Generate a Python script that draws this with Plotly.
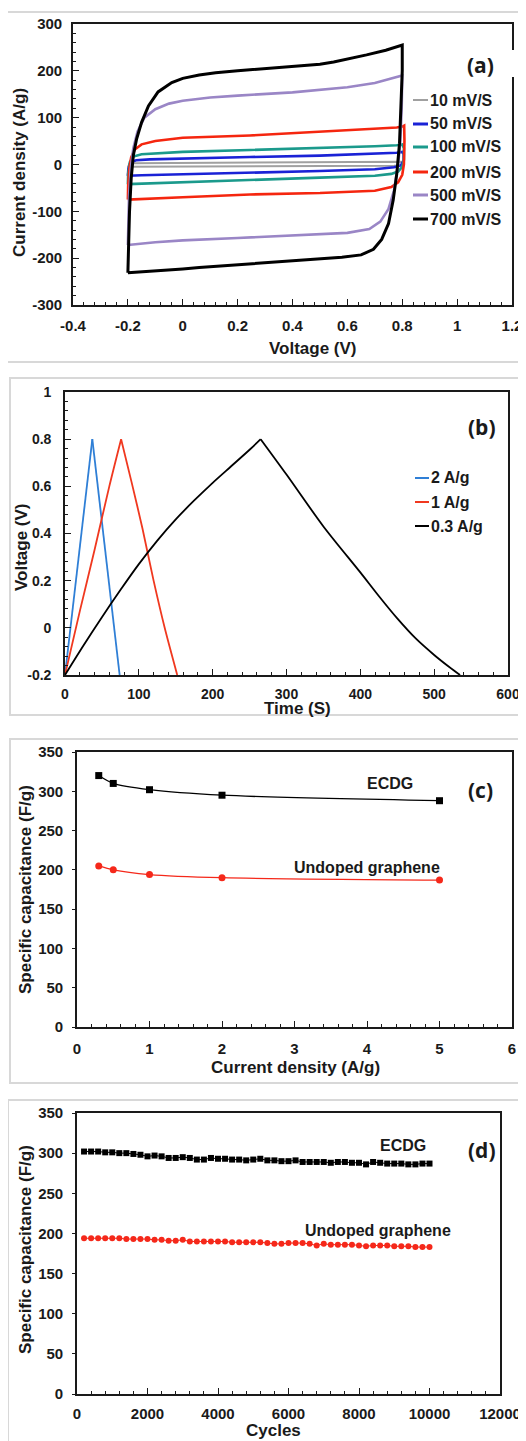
import plotly.graph_objects as go

# page has an 8px body margin: the figure is placed at (8, 8)
OX, OY = 8, 8
FW, FH = 518, 1433
def px(x): return (x - OX) / FW
def py(y): return 1 - (y - OY) / FH

FONT = "Liberation Sans, Arial, sans-serif"
LBL_FONT = "Open Sans, sans-serif"
INK = "#1a1a1a"

# ---------------- Panel (a): CV curves ----------------
cv_legend = ["10 mV/S", "50 mV/S", "100 mV/S", "200 mV/S", "500 mV/S", "700 mV/S"]
cv_colors = ["#a0a0a0", "#1a22d6", "#1b9a8c", "#f5260f", "#9a86c6", "#000000"]
cv_widths = [2, 2.6, 2.6, 2.6, 2.6, 3]

cv10_v = [-0.2, -0.195, -0.18, 0.0, 0.2, 0.4, 0.6, 0.78, 0.8, 0.8, 0.79, 0.77, 0.6, 0.4, 0.2, 0.0, -0.18, -0.2, -0.2]
cv10_i = [-5, 1, 2.5, 3, 3.5, 4, 5, 6, 6, 1, -2, -2.5, -3, -3.5, -4, -4.5, -5, -5, -5]

cv50_v = [-0.2, -0.198, -0.19, -0.17, -0.12, 0.0, 0.245, 0.5, 0.7, 0.78, 0.8, 0.805, 0.805, 0.795, 0.77, 0.7, 0.5, 0.245, 0.0, -0.15, -0.2]
cv50_i = [-24, -8, 5, 9, 11, 13, 16, 19, 23, 25, 27, 22, 8, -2, -6, -10, -14, -17, -21, -23, -24]

cv100_v = [-0.2, -0.199, -0.193, -0.18, -0.15, -0.1, 0.0, 0.245, 0.5, 0.7, 0.78, 0.8, 0.806, 0.806, 0.8, 0.785, 0.76, 0.7, 0.5, 0.245, 0.0, -0.15, -0.2]
cv100_i = [-42, -20, 5, 17, 22, 24, 27, 31, 35, 39, 41, 43, 35, 10, -5, -15, -20, -24, -28, -33, -38, -41, -42]

cv200_v = [-0.2, -0.199, -0.195, -0.188, -0.175, -0.15, -0.1, -0.05, 0.0, 0.245, 0.5, 0.7, 0.78, 0.8, 0.807, 0.808, 0.806, 0.8, 0.785, 0.76, 0.7, 0.5, 0.245, 0.0, -0.1, -0.2]
cv200_i = [-75, -45, -10, 15, 32, 43, 50, 54, 57, 62, 70, 76, 79, 81, 83, 50, 0, -22, -38, -48, -56, -61, -64, -70, -73, -75]

cv500_v = [-0.2, -0.199, -0.196, -0.19, -0.18, -0.165, -0.14, -0.1, -0.05, 0.0, 0.1, 0.2, 0.4, 0.6, 0.7, 0.8, 0.8, 0.798, 0.793, 0.785, 0.77, 0.75, 0.72, 0.68, 0.6, 0.4, 0.2, 0.0, -0.1, -0.2, -0.2]
cv500_i = [-172, -130, -70, -10, 35, 70, 100, 118, 130, 136, 143, 147, 154, 165, 174, 190, 170, 120, 50, 0, -55, -95, -122, -138, -146, -152, -157, -162, -166, -172, -172]

cv700_v = [-0.2, -0.198, -0.194, -0.188, -0.18, -0.168, -0.15, -0.125, -0.09, -0.04, 0.0, 0.06, 0.12, 0.2, 0.3, 0.4, 0.5, 0.55, 0.6, 0.67, 0.74, 0.8, 0.8, 0.797, 0.79, 0.78, 0.767, 0.75, 0.725, 0.695, 0.65, 0.58, 0.53, 0.43, 0.3, 0.18, 0.06, 0.0, -0.12, -0.2, -0.2]
cv700_i = [-231, -170, -100, -30, 20, 55, 90, 125, 155, 175, 184, 191, 196, 200, 205, 210, 214, 219, 225, 234, 244, 255, 200, 138, 45, -20, -76, -126, -160, -181, -193, -198, -200, -205, -210, -215, -220, -223, -227, -231, -231]

cv_x_ticks = [-0.4, -0.2, 0, 0.2, 0.4, 0.6, 0.8, 1, 1.2]
cv_x_text = ["-0.4", "-0.2", "0", "0.2", "0.4", "0.6", "0.8", "1", "1.2"]
cv_y_ticks = [-300, -200, -100, 0, 100, 200, 300]
cv_y_text = ["-300", "-200", "-100", "0", "100", "200", "300"]

# ---------------- Panel (b): GCD curves ----------------
gcd_legend = ["2 A/g", "1 A/g", "0.3 A/g"]
gcd_colors = ["#2f7fd6", "#f0381f", "#000000"]
gcd2_t = [0, 37, 74]
gcd2_v = [-0.2, 0.8, -0.2]
gcd2_peak = 1
gcd1_t = [0, 20, 40, 60, 76, 90, 105, 120, 135, 152]
gcd1_v = [-0.2, 0.07, 0.33, 0.6, 0.8, 0.62, 0.42, 0.2, 0.0, -0.2]
gcd1_peak = 4
gcd03_t = [0, 25, 50, 75, 100, 125, 150, 175, 200, 225, 250, 265,
           300, 350, 400, 425, 450, 475, 500, 520, 535]
gcd03_v = [-0.2, -0.075, 0.045, 0.16, 0.27, 0.37, 0.46, 0.54, 0.615, 0.685, 0.755, 0.8,
           0.65, 0.43, 0.235, 0.135, 0.04, -0.045, -0.115, -0.165, -0.2]
gcd03_peak = 11
gcd_y_ticks = [-0.2, 0, 0.2, 0.4, 0.6, 0.8, 1]
gcd_y_text = ["-0.2", "0", "0.2", "0.4", "0.6", "0.8", "1"]

# ---------------- Panel (c): rate capability ----------------
rate_x = [0.3, 0.5, 1, 2, 5]
rate_ecdg = [320, 310, 302, 295, 288]
rate_undoped = [205, 200, 194, 190, 187]

# ---------------- Panel (d): cycling ----------------
cycles = list(range(200, 10001, 200))
cyc_ecdg = [302, 302, 302, 301, 301, 300, 300, 299, 298, 296,
            297, 296, 294, 294, 295, 294, 292, 292, 294, 293,
            293, 292, 292, 291, 292, 293, 291, 291, 290, 290,
            291, 289, 289, 289, 289, 288, 289, 289, 288, 288,
            286, 289, 288, 287, 287, 287, 286, 286, 287, 287]
cyc_undoped = [194, 194, 194, 194, 194, 194, 193, 193, 193, 193,
               192, 192, 191, 191, 192, 190, 190, 190, 190, 190,
               190, 189, 189, 189, 189, 189, 188, 187, 187, 188,
               188, 188, 187, 185, 187, 186, 186, 186, 186, 185,
               184, 185, 185, 185, 184, 184, 184, 183, 183, 183]

RED = "#f5281a"

fig = go.Figure()

def line(x, y, color, width, xa, ya, shape="linear", mode="lines", marker=None):
    fig.add_trace(go.Scatter(x=x, y=y, mode=mode, xaxis=xa, yaxis=ya,
                             line=dict(color=color, width=width, shape=shape, smoothing=0.8),
                             marker=marker, showlegend=False, hoverinfo="skip"))

cv_sets = [(cv10_v, cv10_i), (cv50_v, cv50_i), (cv100_v, cv100_i),
           (cv200_v, cv200_i), (cv500_v, cv500_i), (cv700_v, cv700_i)]
for (v, i), c, w in zip(cv_sets, cv_colors, cv_widths):
    line(v, i, c, w, "x", "y")

# charge and discharge halves drawn separately so the peak stays sharp
for t, v, k, c in [(gcd2_t, gcd2_v, gcd2_peak, gcd_colors[0]),
                   (gcd1_t, gcd1_v, gcd1_peak, gcd_colors[1]),
                   (gcd03_t, gcd03_v, gcd03_peak, gcd_colors[2])]:
    line(t[:k + 1], v[:k + 1], c, 1.8, "x2", "y2", shape="spline")
    line(t[k:], v[k:], c, 1.8, "x2", "y2", shape="spline")

line(rate_x, rate_ecdg, "#000000", 1.3, "x3", "y3", shape="spline", mode="lines+markers",
     marker=dict(symbol="square", size=7, color="#000000"))
line(rate_x, rate_undoped, RED, 1.3, "x3", "y3", shape="spline", mode="lines+markers",
     marker=dict(symbol="circle", size=7, color=RED))

line(cycles, cyc_ecdg, "#000000", 1, "x4", "y4", mode="lines+markers",
     marker=dict(symbol="square", size=6, color="#000000"))
line(cycles, cyc_undoped, RED, 1, "x4", "y4", mode="lines+markers",
     marker=dict(symbol="circle", size=6, color=RED))

def axis(domain, rng, anchor, dtick=None, tickvals=None, ticktext=None, ticks="inside",
         ticklen=6, minor=None, fsize=15, standoff=8):
    d = dict(domain=domain, range=rng, anchor=anchor, showline=True, linecolor=INK,
             linewidth=1.6, mirror=True, ticks=ticks, ticklen=ticklen, tickwidth=1.3,
             tickcolor=INK, showgrid=False, zeroline=False, fixedrange=True,
             automargin=False, ticklabelstandoff=standoff,
             tickfont=dict(family=FONT, size=fsize, color=INK, weight="bold"))
    if tickvals is not None:
        d.update(tickmode="array", tickvals=tickvals, ticktext=ticktext)
    else:
        d.update(tick0=rng[0], dtick=dtick, tickformat="d")
    if minor is not None:
        d["minor"] = dict(ticks="inside", ticklen=3, tickwidth=1.1, tickcolor=INK, dtick=minor,
                          tick0=rng[0], showgrid=False)
    return d

fig.update_layout(
    width=FW, height=FH, autosize=False,
    margin=dict(l=0, r=0, t=0, b=0, pad=0),
    paper_bgcolor="white", plot_bgcolor="white",
    showlegend=False,
    xaxis=axis([px(73), px(512)], [-0.4, 1.2], "y", tickvals=cv_x_ticks, ticktext=cv_x_text,
               minor=0.04, standoff=6),
    yaxis=axis([py(305), py(24)], [-300, 300], "x", tickvals=cv_y_ticks, ticktext=cv_y_text,
               minor=20, standoff=6),
    xaxis2=axis([px(65), px(508)], [0, 600], "y2", dtick=100, minor=20, fsize=14, standoff=5),
    yaxis2=axis([py(675), py(392)], [-0.2, 1], "x2", tickvals=gcd_y_ticks, ticktext=gcd_y_text,
                minor=0.04, fsize=14, standoff=9),
    xaxis3=axis([px(77), px(512)], [0, 6], "y3", dtick=1, minor=0.2, standoff=7),
    yaxis3=axis([py(1027), py(752)], [0, 350], "x3", dtick=50, ticks="outside", ticklen=3,
                standoff=6),
    xaxis4=axis([px(77), px(500)], [0, 12000], "y4", dtick=2000, minor=400, standoff=5),
    yaxis4=axis([py(1394), py(1113)], [0, 350], "x4", dtick=50, ticks="outside", ticklen=3,
                standoff=6),
)

shapes = []
# outer light frames of each panel
for x0, y0, x1, y1 in [(7, 12, 522, 362), (10, 378, 522, 715), (10, 739, 522, 1083), (8, 1100, 530, 1450)]:
    shapes.append(dict(type="rect", xref="paper", yref="paper", x0=px(x0), x1=px(x1),
                       y0=py(y1), y1=py(y0), line=dict(color="#d8d8d8", width=2),
                       fillcolor="rgba(0,0,0,0)", layer="below"))
# gap in panel (a) right frame behind the label
shapes.append(dict(type="rect", xref="paper", yref="paper", x0=px(505), x1=px(516),
                   y0=py(77), y1=py(50), line=dict(width=0), fillcolor="white", layer="above"))

annotations = []
def text(x, y, s, size, font=FONT, xanchor="center", angle=0, weight="bold"):
    annotations.append(dict(x=px(x), y=py(y), xref="paper", yref="paper", text=s,
                            showarrow=False, xanchor=xanchor, yanchor="middle", textangle=angle,
                            font=dict(family=font, size=size, color=INK, weight=weight)))

# legend (a)
for k, (lab, c) in enumerate(zip(cv_legend, cv_colors)):
    yy = [100, 124, 147, 172, 195, 219][k]
    shapes.append(dict(type="line", xref="paper", yref="paper", x0=px(413), x1=px(428),
                       y0=py(yy), y1=py(yy), line=dict(color=c, width=3 if k else 2)))
    text(428, yy, lab, 16, xanchor="left")
# legend (b)
for k, (lab, c) in enumerate(zip(gcd_legend, gcd_colors)):
    yy = [478, 502, 526][k]
    shapes.append(dict(type="line", xref="paper", yref="paper", x0=px(415), x1=px(429),
                       y0=py(yy), y1=py(yy), line=dict(color=c, width=2)))
    text(429, yy, lab, 16, xanchor="left")

# panel labels
text(480, 65, "(a)", 21, font=LBL_FONT)
text(482, 427, "(b)", 21, font=LBL_FONT)
text(480, 790, "(c)", 21, font=LBL_FONT)
text(482, 1150, "(d)", 21, font=LBL_FONT)

# series labels
text(390, 783, "ECDG", 16)
text(367, 867, "Undoped graphene", 16)
text(403, 1145, "ECDG", 16)
text(378, 1230, "Undoped graphene", 16)

# axis titles
text(20, 173, "Current density (A/g)", 17, angle=-90)
text(313, 348, "Voltage (V)", 17)
text(22, 547, "Voltage (V)", 17, angle=-90)
text(297, 709, "Time (S)", 17)
text(25, 890, "Specific capacitance (F/g)", 17, angle=-90)
text(295, 1067, "Current density (A/g)", 17)
text(25, 1250, "Specific capacitance (F/g)", 17, angle=-90)
text(273, 1430, "Cycles", 17)

fig.update_layout(shapes=shapes, annotations=annotations)
fig.write_html("out.html")
